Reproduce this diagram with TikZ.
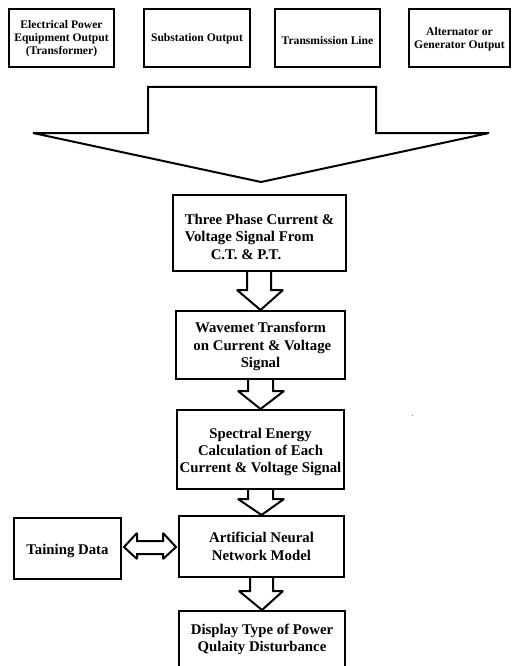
\documentclass[tikz,border=0pt]{standalone}
\usepackage{fontspec}
\setmainfont{Liberation Serif}
\usetikzlibrary{calc}
\begin{document}
\begin{tikzpicture}[x=1pt,y=-1pt,
  box/.style={draw,line width=2pt,inner sep=0pt},
  topbox/.style={box,minimum height=58pt},
  toptext/.style={inner sep=0pt,align=center,font=\fontsize{11.6}{13.2}\selectfont\bfseries},
  midtext/.style={inner sep=0pt,align=center,font=\fontsize{14.8}{17.3}\selectfont\bfseries},
  blk/.style={draw,line width=2pt,line join=miter,miter limit=2,fill=white}]
\useasboundingbox (0,0) rectangle (511,666);
% top boxes
\node[topbox,minimum width=105pt] (t1) at (61.5,38) {};
\node[topbox,minimum width=106pt] (t2) at (197,38) {};
\node[topbox,minimum width=105pt] (t3) at (327.5,38) {};
\node[topbox,minimum width=101pt] (t4) at (459.5,38) {};
\node[toptext] (t1t) at ($(t1.center)+(0,1)$) {Electrical Power\\Equipment Output\\(Transformer)};
\node[toptext] (t2t) at ($(t2.center)+(0,1)$) {Substation Output};
\node[toptext] (t3t) at ($(t3.center)+(0,3)$) {Transmission Line};
\node[toptext] (t4t) at ($(t4.center)+(0,1)$) {Alternator or\\Generator Output};
% big arrow
\coordinate (bigtip) at (261,182);
\draw[blk] (148,87) -- (376,87) -- (376,133) -- (489,133) -- (bigtip) -- (33,133) -- (148,133) -- cycle;
% flow boxes
\node[box,minimum width=173pt,minimum height=76pt] (a) at (259.5,233) {};
\node[box,minimum width=169pt,minimum height=68pt] (b) at (260.5,345) {};
\node[box,minimum width=167pt,minimum height=79pt] (c) at (260.5,449.5) {};
\node[box,minimum width=165pt,minimum height=61pt] (d) at (261.5,546.5) {};
\node[box,minimum width=107pt,minimum height=61pt] (tr) at (67.5,548.5) {};
\node[box,minimum width=166pt,minimum height=78pt] (e) at (262,650) {};
\node[midtext] (at) at ($(a.center)+(0,5.5)$) {\begin{tabular}{@{}l@{}}Three Phase Current \&\\Voltage Signal From\\\hspace*{26pt}C.T. \& P.T.\end{tabular}};
\node[midtext] (bt) at ($(b.center)+(0,1.5)$) {Wavemet Transform\\\ on Current \& Voltage\\Signal};
\node[midtext] (ct) at ($(c.center)+(0,2.5)$) {Spectral Energy\\Calculation of Each\hspace*{8pt}\\Current \& Voltage Signal};
\node[midtext] (dt) at (d.center) {Artificial Neural\\Network Model};
\node[midtext] (trt) at ($(tr.center)+(0,2)$) {Taining Data};
\node[midtext] (et) at ($(e.center)+(0,-10.5)$) {Display Type of Power\\Qulaity Disturbance};
% block arrows between boxes
\draw[blk] ($(a.south)+(-12.5,0)$) -- ($(a.south)+(-12.5,18)$) -- ($(a.south)+(-22.5,18)$) -- (b.north) -- ($(a.south)+(23.5,18)$) -- ($(a.south)+(11.5,18)$) -- ($(a.south)+(11.5,0)$);
\draw[blk] ($(b.south)+(-12.5,0)$) -- ($(b.south)+(-12.5,11)$) -- ($(b.south)+(-22.5,11)$) -- (c.north) -- ($(b.south)+(23.5,11)$) -- ($(b.south)+(12.5,11)$) -- ($(b.south)+(12.5,0)$);
\draw[blk] ($(c.south)+(-12.5,0)$) -- ($(c.south)+(-12.5,9)$) -- ($(c.south)+(-22.5,9)$) -- (d.north) -- ($(c.south)+(23.5,9)$) -- ($(c.south)+(12.5,9)$) -- ($(c.south)+(12.5,0)$);
\draw[blk] ($(d.south)+(-11.5,0)$) -- ($(d.south)+(-11.5,13)$) -- ($(d.south)+(-22.5,13)$) -- (e.north) -- ($(d.south)+(21.5,13)$) -- ($(d.south)+(11.5,13)$) -- ($(d.south)+(11.5,0)$);
% double arrow
\coordinate (dl) at ($(tr.east)+(2,-1.5)$);
\coordinate (dr) at ($(d.west)+(-2,0.5)$);
\draw[blk] (dl) -- ($(dl)+(13,-14)$) -- ($(dl)+(13,-6)$) -- ($(dr)+(-13,-6)$) -- ($(dr)+(-13,-14)$) -- (dr) -- ($(dr)+(-13,12)$) -- ($(dr)+(-13,7)$) -- ($(dl)+(13,7)$) -- ($(dl)+(13,12)$) -- cycle;
% stray dot
\fill[gray] (411.5,414.5) rectangle (412.5,415.5);
\end{tikzpicture}
\end{document}
